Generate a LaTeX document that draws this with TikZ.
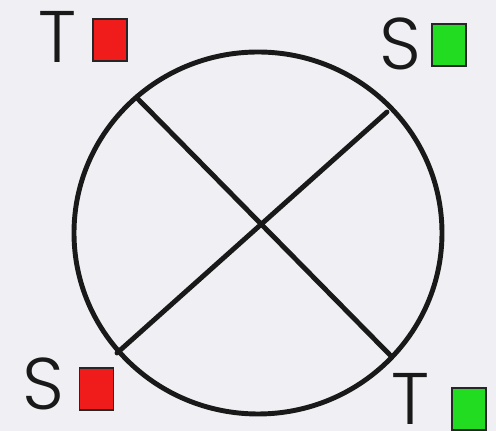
\documentclass[tikz,border=0pt]{standalone}
\usepackage{fontspec}
\usepackage{xcolor}
\usepackage{tikz}
\usetikzlibrary{positioning}
\definecolor{bgpaper}{RGB}{240,240,244}
\definecolor{tred}{RGB}{240,28,28}
\definecolor{sgreen}{RGB}{34,220,34}
\newfontfamily\letterfont{Poppins}[UprightFont={* Light}]

\begin{document}
\begin{tikzpicture}[
  x=0.025cm, y=-0.025cm,
  line width=3.5pt, line cap=round,
  lab/.style={font=\letterfont\fontsize{52}{52}\selectfont, inner sep=0pt, text=black!90},
  flag/.style={draw=black!85, line width=1pt, minimum width=0.85cm, minimum height=1.05cm, inner sep=0pt}
]
  \fill[bgpaper] (0,0) rectangle (496,431);
  \useasboundingbox (0,0) rectangle (496,431);

  \draw[black!90] (258,233) ellipse (184 and 181);

  \coordinate (tl) at (138,99);
  \coordinate (br) at (390,355);
  \coordinate (tr) at (387,112);
  \coordinate (bl) at (117,353);

  \draw[black!90] (tl) -- (br);
  \draw[black!90] (tr) -- (bl);

  \node[lab] (t1) at (58,37) {T};
  \node[flag, fill=tred] (f1) at (110,40) {};
  \node[lab] (s1) at (400,44) {S};
  \node[flag, fill=sgreen] (f2) at (449,45) {};
  \node[lab] (s2) at (43,384) {S};
  \node[flag, fill=tred] (f3) at (96.5,389) {};
  \node[lab] (t2) at (411,399) {T};
  \node[flag, fill=sgreen] (f4) at (469,409) {};
\end{tikzpicture}
\end{document}
